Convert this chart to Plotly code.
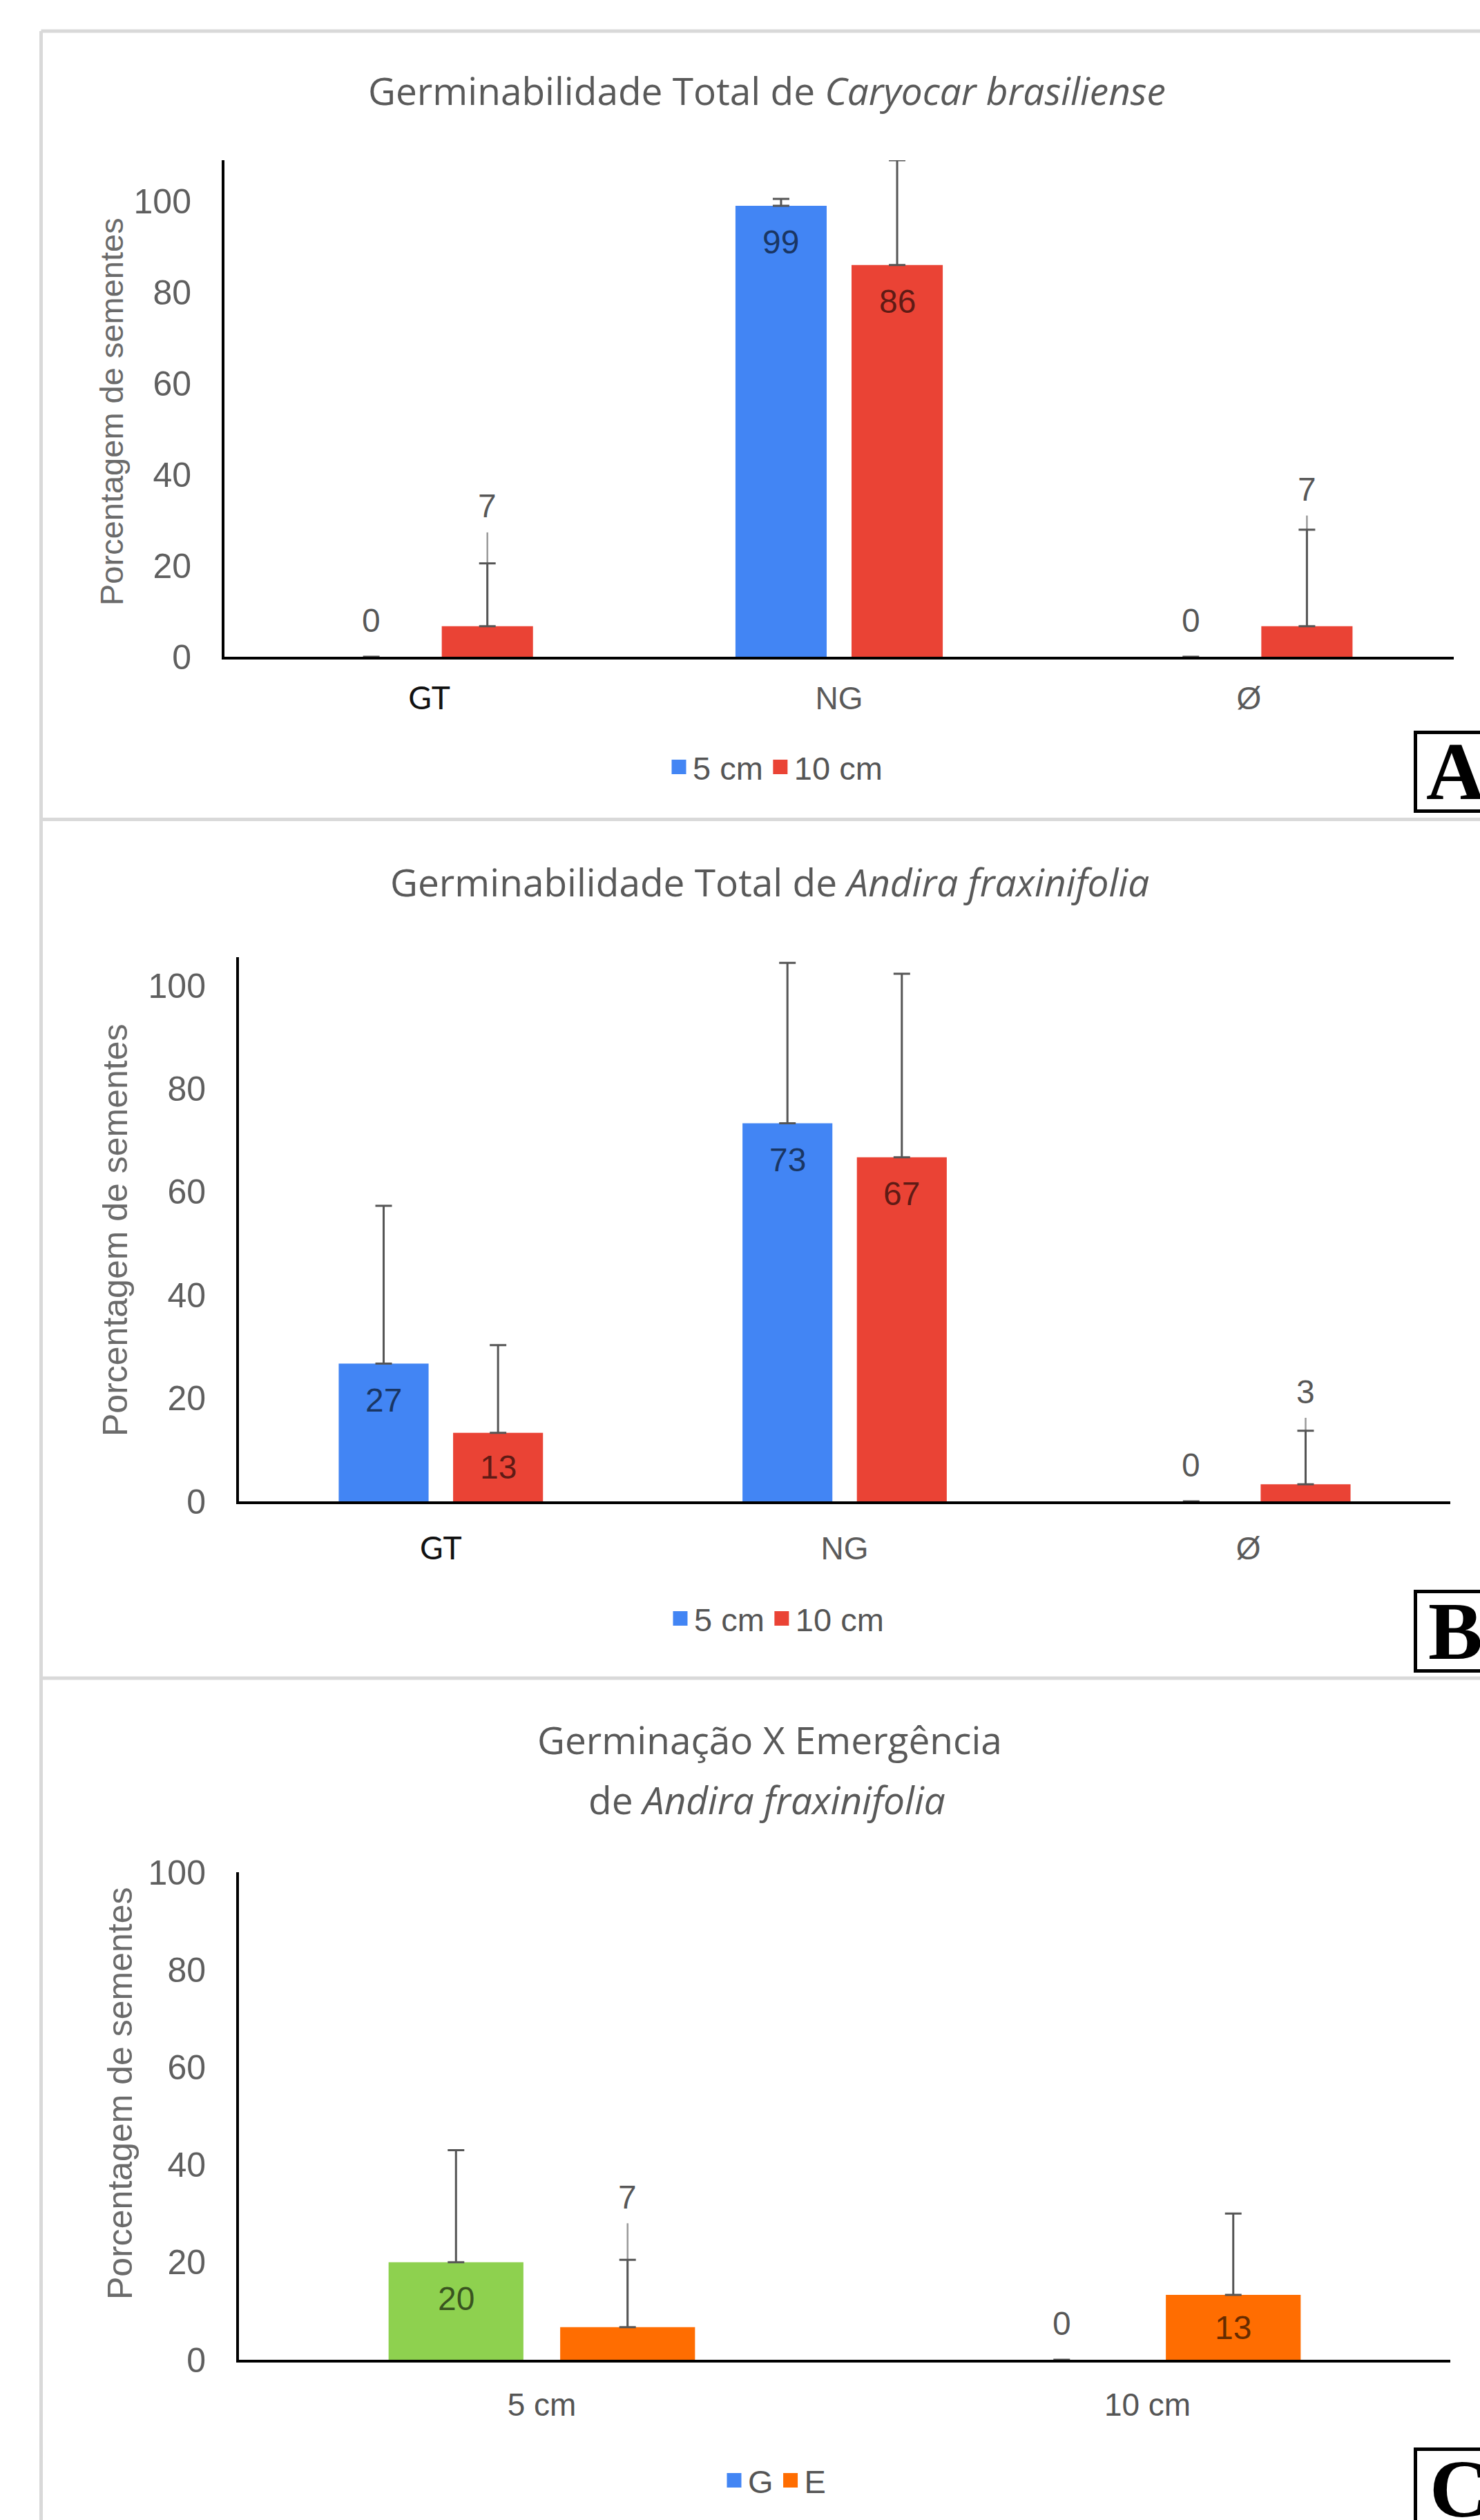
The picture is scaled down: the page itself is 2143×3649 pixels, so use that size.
import plotly.graph_objects as go

W, H = 2143, 3649

# ---------------- data ----------------
# Panel A: Germinabilidade Total de Caryocar brasiliense
cats_A = ["GT", "NG", "Ø"]
a_5cm = [0, 99, 0]
a_5cm_err = [None, 1.5, None]
a_10cm = [6.7, 86, 6.7]
a_10cm_err = [13.8, 23, 21.2]
a_10cm_err_ext = [20.6, None, 24.3]

# Panel B: Germinabilidade Total de Andira fraxinifolia
cats_B = ["GT", "NG", "Ø"]
b_5cm = [26.7, 73.3, 0]
b_5cm_err = [30.6, 31.1, None]
b_10cm = [13.3, 66.7, 3.3]
b_10cm_err = [17.0, 35.6, 10.4]
b_10cm_err_ext = [None, None, 12.9]

# Panel C: Germinação X Emergência de Andira fraxinifolia
cats_C = ["5 cm", "10 cm"]
c_G = [20, 0]
c_G_err = [23, None]
c_E = [6.7, 13.3]
c_E_err = [13.8, 16.7]
c_E_err_ext = [21.3, None]

y_ticks = [0, 20, 40, 60, 80, 100]

# ---------------- style ----------------
BLUE, RED, GREEN, ORANGE = "#4285f4", "#ea4335", "#8ed14f", "#ff6d01"
SANS = "Liberation Sans, Arial, sans-serif"
TITLE_FONT = "Open Sans, sans-serif"
BW = 0.2226   # bar width (category units)
BG = 0.0607   # gap between paired bars
OFFS = [-(BG / 2 + BW), BG / 2]


def px(x):
    return x / W


def py(y):
    return 1 - y / H


panels = [
    dict(cats=cats_A, box=(325, 232, 2105, 951), yr=109,
         series=[("5 cm", a_5cm, a_5cm_err, None, BLUE, BLUE),
                 ("10 cm", a_10cm, a_10cm_err, a_10cm_err_ext, RED, RED)],
         legend=(1123, 1111), cat_style="AB", standoff=17),
    dict(cats=cats_B, box=(346, 1386, 2100, 2174), yr=105.5,
         series=[("5 cm", b_5cm, b_5cm_err, None, BLUE, BLUE),
                 ("10 cm", b_10cm, b_10cm_err, b_10cm_err_ext, RED, RED)],
         legend=(1125, 2344), cat_style="AB", standoff=25),
    dict(cats=cats_C, box=(346, 2711, 2100, 3417), yr=100,
         series=[("G", c_G, c_G_err, None, GREEN, BLUE),
                 ("E", c_E, c_E_err, c_E_err_ext, ORANGE, ORANGE)],
         legend=(1122, 3592), cat_style="C", standoff=22),
]


def fmt_cat(c, style):
    if style == "AB" and c == "GT":
        return "<span style='font-family:Lato;color:#111111'>GT</span>"
    return c


fig = go.Figure()
annotations = []
layout = {}
LABEL_OUT = "rgba(0,0,0,0.66)"
LABEL_IN = "rgba(0,0,0,0.62)"

for i, p in enumerate(panels):
    sfx = "" if i == 0 else str(i + 1)
    xa, ya = "x" + sfx, "y" + sfx
    leg = "legend" + sfx
    n = len(p["cats"])
    x0, y0, x1, y1 = p["box"]
    ppu = (y1 - y0) / p["yr"]
    xs = list(range(n))
    for k, (name, vals, err, ext, color, legcolor) in enumerate(p["series"]):
        off = OFFS[k]
        if ext is not None:
            fig.add_trace(go.Bar(
                x=xs, y=vals, width=BW, offset=off, xaxis=xa, yaxis=ya,
                marker=dict(color="rgba(0,0,0,0)", line=dict(width=0)),
                error_y=dict(type="data", array=ext, arrayminus=[0] * n,
                             symmetric=False, color="#9a9a9a", thickness=2.5, width=0),
                showlegend=False, hoverinfo="skip"))
        fig.add_trace(go.Bar(
            x=xs, y=vals, width=BW, offset=off, xaxis=xa, yaxis=ya, name=name,
            marker=dict(color=color, line=dict(width=0)),
            error_y=dict(type="data", array=err, arrayminus=[0] * n,
                         symmetric=False, color="#555555", thickness=3, width=12),
            showlegend=False, hoverinfo="skip"))
        # legend entry
        fig.add_trace(go.Scatter(
            x=[None], y=[None], mode="markers", name=name, xaxis=xa, yaxis=ya,
            marker=dict(symbol="square", size=16, color=legcolor,
                        line=dict(color=legcolor, width=5)),
            legend=leg, showlegend=True, hoverinfo="skip"))
        # data labels
        for j, v in enumerate(vals):
            xc = j + off + BW / 2
            lab = str(int(round(v)))
            common = dict(x=xc, xref=xa, yref=ya, text=lab, showarrow=False,
                          xanchor="center", yanchor="middle")
            if v == 0:
                annotations.append(dict(common, y=0, yshift=53,
                                        font=dict(family=SANS, size=48, color=LABEL_OUT)))
            elif v * ppu < 70:
                e = ext[j] if (ext is not None and ext[j] is not None) else (err[j] or 0)
                annotations.append(dict(common, y=v + e, yshift=38,
                                        font=dict(family=SANS, size=48, color=LABEL_OUT)))
            elif v * ppu < 130:
                annotations.append(dict(common, y=v / 2,
                                        font=dict(family=SANS, size=48, color=LABEL_IN)))
            else:
                annotations.append(dict(common, y=v, yshift=-53,
                                        font=dict(family=SANS, size=48, color=LABEL_IN)))

    cat_font = (dict(family=SANS, size=46, color="#555555") if p["cat_style"] == "C"
                else dict(family=SANS, size=46, color="#5a5a5a"))
    layout["xaxis" + sfx] = dict(
        domain=[px(x0), px(x1)], anchor=ya, range=[-0.5, n - 0.5],
        tickmode="array", tickvals=xs, ticktext=[fmt_cat(c, p["cat_style"]) for c in p["cats"]],
        showline=True, linecolor="black", linewidth=4, ticks="", showgrid=False,
        zeroline=False, tickfont=cat_font, ticklabelstandoff=p["standoff"], fixedrange=True,
        automargin=False)
    layout["yaxis" + sfx] = dict(
        domain=[py(y1), py(y0)], anchor=xa, range=[0, p["yr"]],
        tickmode="array", tickvals=y_ticks,
        showline=True, linecolor="black", linewidth=4, ticks="", showgrid=False,
        zeroline=False, tickfont=dict(family=SANS, size=50, color="#5f5f5f"),
        ticklabelstandoff=34, fixedrange=True, automargin=False)
    lx, ly = p["legend"]
    layout[leg] = dict(orientation="h", x=px(lx), y=py(ly), xanchor="center", yanchor="middle",
                       xref="paper", yref="paper",
                       font=dict(family=SANS, size=47, color="#555555"),
                       bgcolor="rgba(0,0,0,0)", itemwidth=30, tracegroupgap=0)

PAPER = dict(xref="paper", yref="paper", showarrow=False, xanchor="center", yanchor="middle")
# titles
annotations += [
    dict(PAPER, x=px(1110), y=py(130),
         text="Germinabilidade Total de <i>Caryocar brasiliense</i>",
         font=dict(family=TITLE_FONT, size=55, color="#595959")),
    dict(PAPER, x=px(1114), y=py(1277),
         text="Germinabilidade Total de <i>Andira fraxinifolia</i>",
         font=dict(family=TITLE_FONT, size=55, color="#595959")),
    dict(PAPER, x=px(1114), y=py(2518),
         text="Germinação X Emergência",
         font=dict(family=TITLE_FONT, size=55, color="#595959")),
    dict(PAPER, x=px(1110), y=py(2605),
         text="de <i>Andira fraxinifolia</i>",
         font=dict(family=TITLE_FONT, size=55, color="#595959")),
]
# y-axis titles
for (xc, yc, fs) in [(161, 596, 47), (167, 1781, 50), (174, 3031, 50)]:
    annotations.append(dict(PAPER, x=px(xc), y=py(yc),
                            text="Porcentagem de sementes", textangle=-90,
                            font=dict(family=SANS, size=fs, color="#6b6b6b")))
# panel letters
for (lt, lx, lyc) in [("A", 2063, 1117), ("B", 2066, 2362), ("C", 2068, 3604)]:
    annotations.append(dict(PAPER, x=px(lx), y=py(lyc), xanchor="left",
                            text="<b>%s</b>" % lt,
                            font=dict(family="Liberation Serif, Times New Roman, serif",
                                      size=118, color="black")))

shapes = []
GRAY = "#d9d9d9"
for (xa0, ya0, xa1, ya1) in [(59.5, 45, 59.5, H + 10), (59.5, 45, W + 10, 45),
                             (59.5, 1186.5, W + 10, 1186.5), (59.5, 2430, W + 10, 2430)]:
    shapes.append(dict(type="line", xref="paper", yref="paper", x0=px(xa0), y0=py(ya0),
                       x1=px(xa1), y1=py(ya1), line=dict(color=GRAY, width=5)))
for (bx0, by0, by1) in [(2049.5, 1060.5, 1174.5), (2049.5, 2304.5, 2419.5), (2049.5, 3546.5, 3720)]:
    shapes.append(dict(type="rect", xref="paper", yref="paper", x0=px(bx0), x1=px(W + 60),
                       y0=py(by0), y1=py(by1), line=dict(color="black", width=5)))

fig.update_layout(
    width=W, height=H, autosize=False,
    margin=dict(l=0, r=0, t=0, b=0, pad=0, autoexpand=False),
    paper_bgcolor="white", plot_bgcolor="white",
    barmode="overlay", showlegend=True,
    annotations=annotations, shapes=shapes,
    **layout)

fig.write_html("out.html", config={"displayModeBar": False, "responsive": False},
               post_script="document.body.style.margin='0';document.body.style.overflow='hidden';")
